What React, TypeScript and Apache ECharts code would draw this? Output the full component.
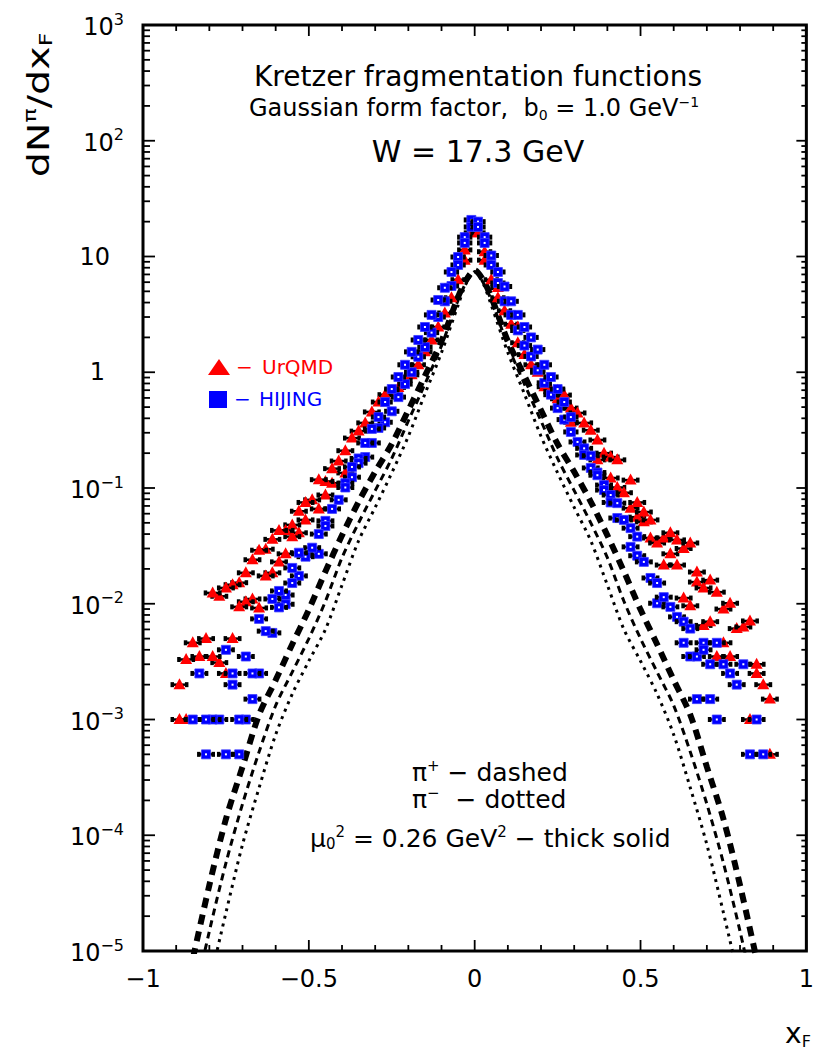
import React, { useEffect, useRef } from "react";
import * as echarts from "echarts";

const FONT = "DejaVu Sans";

// ---- axis ticks ----
const xTickLabels = [-1, -0.5, 0, 0.5, 1];
const yDecades = [-5, -4, -3, -2, -1, 0, 1, 2, 3];

// ---- model curves (dN/dxF vs xF) ----
const curveX = [
  -0.86, -0.8, -0.75, -0.7, -0.65, -0.6, -0.55, -0.5, -0.45, -0.4, -0.35, -0.3, -0.25, -0.2, -0.15, -0.1, -0.05, -0.025, 0,
  0.025, 0.05, 0.1, 0.15, 0.2, 0.25, 0.3, 0.35, 0.4, 0.45, 0.5, 0.55, 0.6, 0.65, 0.7, 0.75, 0.8, 0.86,
];
const thickSolid = [
  6.3e-6, 3.7e-5, 1.38e-4, 3.9e-4, 1.1e-3, 2.19e-3, 4.47e-3, 8.9e-3, 0.019, 0.039, 0.076, 0.138, 0.24, 0.47, 0.93, 1.86, 4.47, 6.3, 7.6,
  6.3, 4.47, 1.86, 0.93, 0.47, 0.24, 0.138, 0.076, 0.039, 0.019, 8.9e-3, 4.47e-3, 2.19e-3, 1.1e-3, 3.9e-4, 1.38e-4, 3.7e-5, 6.3e-6,
];
const piPlusDashed = [
  2.5e-6, 1.48e-5, 5.75e-5, 1.86e-4, 5.25e-4, 1.32e-3, 2.57e-3, 5.0e-3, 0.0105, 0.025, 0.05, 0.095, 0.18, 0.38, 0.79, 1.7, 4.2, 6.0, 7.4,
  6.0, 4.2, 1.7, 0.79, 0.38, 0.18, 0.095, 0.05, 0.025, 0.0105, 5.0e-3, 2.57e-3, 1.32e-3, 5.25e-4, 1.86e-4, 5.75e-5, 1.48e-5, 2.5e-6,
];
const piMinusDotted = [
  1e-6, 5.2e-6, 2.14e-5, 8.3e-5, 2.57e-4, 7.4e-4, 1.66e-3, 3.2e-3, 6.0e-3, 0.0145, 0.035, 0.068, 0.135, 0.28, 0.65, 1.48, 3.8, 5.9, 7.4,
  5.9, 3.8, 1.48, 0.65, 0.28, 0.135, 0.068, 0.035, 0.0145, 6.0e-3, 3.2e-3, 1.66e-3, 7.4e-4, 2.57e-4, 8.3e-5, 2.14e-5, 5.2e-6, 1e-6,
];

// ---- UrQMD points [xF, dN/dxF] ----
const urqmdLeft = [
  [-0.01, 16], [-0.03, 11.4], [-0.03, 9.3], [-0.05, 6.3], [-0.07, 4.4], [-0.09, 3.25], [-0.11, 2.46], [-0.13, 1.9],
  [-0.15, 1.5], [-0.17, 1.16], [-0.19, 0.95], [-0.21, 0.85], [-0.23, 0.74], [-0.25, 0.69], [-0.27, 0.64], [-0.29, 0.553],
  [-0.31, 0.454], [-0.33, 0.365], [-0.35, 0.31], [-0.37, 0.27], [-0.39, 0.21], [-0.39, 0.135], [-0.41, 0.171],
  [-0.43, 0.147], [-0.43, 0.11], [-0.45, 0.114], [-0.45, 0.087], [-0.47, 0.118], [-0.47, 0.066], [-0.49, 0.079],
  [-0.51, 0.075], [-0.51, 0.053], [-0.53, 0.063], [-0.53, 0.041], [-0.55, 0.048], [-0.55, 0.038], [-0.57, 0.043],
  [-0.57, 0.027], [-0.59, 0.043], [-0.59, 0.023], [-0.61, 0.036], [-0.61, 0.0185], [-0.63, 0.0296], [-0.63, 0.0174],
  [-0.65, 0.029], [-0.65, 0.0092], [-0.67, 0.024], [-0.67, 0.011], [-0.69, 0.0185], [-0.69, 0.0104], [-0.71, 0.0152],
  [-0.71, 0.0094], [-0.73, 0.0146], [-0.73, 0.005], [-0.75, 0.0137], [-0.75, 0.0025], [-0.77, 0.0116], [-0.77, 0.0031],
  [-0.79, 0.0124], [-0.79, 0.0035], [-0.81, 0.005], [-0.83, 0.0035], [-0.85, 0.0046], [-0.87, 0.0033], [-0.87, 0.001],
  [-0.89, 0.002], [-0.89, 0.001],
];
const urqmdRight = [
  [0.01, 16], [0.03, 11], [0.03, 9.3], [0.05, 6.3], [0.07, 5.4], [0.07, 4.4], [0.09, 3.4], [0.11, 2.6], [0.13, 2.46],
  [0.13, 1.8], [0.15, 1.42], [0.17, 1.16], [0.19, 1.0], [0.21, 0.75], [0.23, 0.68], [0.25, 0.7], [0.25, 0.59],
  [0.27, 0.635], [0.29, 0.49], [0.29, 0.37], [0.31, 0.445], [0.33, 0.365], [0.35, 0.316], [0.37, 0.26], [0.37, 0.175],
  [0.39, 0.2], [0.41, 0.185], [0.41, 0.122], [0.43, 0.175], [0.43, 0.101], [0.45, 0.091], [0.47, 0.117], [0.47, 0.067],
  [0.49, 0.075], [0.49, 0.056], [0.51, 0.062], [0.51, 0.051], [0.53, 0.053], [0.53, 0.037], [0.55, 0.0335],
  [0.57, 0.037], [0.57, 0.0216], [0.59, 0.041], [0.59, 0.027], [0.61, 0.0356], [0.61, 0.0216], [0.63, 0.03],
  [0.63, 0.0112], [0.65, 0.0335], [0.65, 0.0096], [0.67, 0.0188], [0.67, 0.0154], [0.69, 0.0137], [0.69, 0.0065],
  [0.71, 0.016], [0.71, 0.007], [0.73, 0.0126], [0.73, 0.0035], [0.75, 0.009], [0.75, 0.0046], [0.77, 0.0101],
  [0.77, 0.0035], [0.79, 0.0061], [0.81, 0.0063], [0.83, 0.0071], [0.83, 0.001], [0.85, 0.003], [0.85, 0.0025],
  [0.87, 0.002], [0.89, 0.0015], [0.89, 0.0005],
];

// ---- HIJING points [xF, dN/dxF] ----
const hijingLeft = [
  [-0.01, 20.7], [-0.01, 18], [-0.03, 14.7], [-0.03, 13.1], [-0.05, 9.9], [-0.05, 8.45], [-0.07, 7.35], [-0.07, 5.56],
  [-0.09, 5.37], [-0.09, 4.1], [-0.11, 4.21], [-0.11, 3.0], [-0.13, 3.13], [-0.13, 2.2], [-0.15, 2.46], [-0.15, 1.65],
  [-0.17, 1.9], [-0.17, 1.36], [-0.19, 1.5], [-0.19, 1.0], [-0.21, 1.16], [-0.21, 0.79], [-0.23, 0.91], [-0.23, 0.61],
  [-0.25, 0.716], [-0.25, 0.46], [-0.27, 0.553], [-0.27, 0.37], [-0.29, 0.41], [-0.29, 0.33], [-0.31, 0.324],
  [-0.31, 0.245], [-0.33, 0.245], [-0.33, 0.185], [-0.35, 0.18], [-0.35, 0.164], [-0.37, 0.152], [-0.37, 0.124],
  [-0.39, 0.11], [-0.39, 0.101], [-0.41, 0.079], [-0.43, 0.066], [-0.45, 0.052], [-0.45, 0.047], [-0.47, 0.04],
  [-0.47, 0.027], [-0.49, 0.0305], [-0.51, 0.0255], [-0.53, 0.0276], [-0.53, 0.0174], [-0.55, 0.0204], [-0.55, 0.0151],
  [-0.57, 0.0119], [-0.57, 0.0099], [-0.59, 0.0129], [-0.59, 0.0093], [-0.61, 0.011], [-0.61, 0.0056], [-0.63, 0.0058],
  [-0.65, 0.0074], [-0.65, 0.0025], [-0.67, 0.0025], [-0.67, 0.0015], [-0.69, 0.0035], [-0.69, 0.001], [-0.71, 0.001],
  [-0.71, 0.0005], [-0.73, 0.0025], [-0.73, 0.002], [-0.75, 0.004], [-0.75, 0.0005], [-0.77, 0.001], [-0.79, 0.001],
  [-0.81, 0.001], [-0.81, 0.0005], [-0.83, 0.0025], [-0.85, 0.001],
];
const hijingRight = [
  [0.01, 20], [0.01, 18], [0.03, 14.7], [0.03, 13.1], [0.05, 10.2], [0.05, 8.45], [0.07, 7.35], [0.07, 5.9],
  [0.09, 5.5], [0.09, 4.1], [0.11, 4.1], [0.11, 3.13], [0.13, 3.13], [0.13, 2.3], [0.15, 2.46], [0.15, 1.7],
  [0.17, 2.0], [0.17, 1.37], [0.19, 1.57], [0.19, 1.04], [0.21, 1.16], [0.21, 0.81], [0.23, 0.91], [0.23, 0.64],
  [0.25, 0.716], [0.25, 0.49], [0.27, 0.553], [0.27, 0.39], [0.29, 0.41], [0.29, 0.305], [0.31, 0.25], [0.33, 0.22],
  [0.33, 0.193], [0.35, 0.19], [0.35, 0.149], [0.37, 0.136], [0.37, 0.129], [0.39, 0.106], [0.39, 0.096], [0.41, 0.087],
  [0.41, 0.075], [0.43, 0.074], [0.43, 0.055], [0.45, 0.053], [0.47, 0.045], [0.47, 0.031], [0.49, 0.038], [0.49, 0.026],
  [0.51, 0.023], [0.53, 0.0167], [0.55, 0.0151], [0.55, 0.0101], [0.57, 0.0114], [0.59, 0.0094], [0.61, 0.0077],
  [0.63, 0.007], [0.63, 0.0046], [0.65, 0.0061], [0.65, 0.0035], [0.67, 0.0035], [0.67, 0.0015], [0.69, 0.0046],
  [0.69, 0.004], [0.71, 0.003], [0.71, 0.0015], [0.73, 0.0046], [0.73, 0.001], [0.75, 0.003], [0.77, 0.0025],
  [0.79, 0.002], [0.81, 0.003], [0.83, 0.0005], [0.85, 0.001], [0.87, 0.0005],
];

function errHalf(x: number) {
  const a = Math.abs(x);
  return a < 0.3 ? 0.02 : 0.024;
}

function markerRenderer(kind: "tri" | "sq") {
  return (_params: any, api: any) => {
    const x = api.value(0);
    const y = api.value(1);
    const hw = errHalf(x);
    const c = api.coord([x, y]);
    const l = api.coord([x - hw, y]);
    const r = api.coord([x + hw, y]);
    const children: any[] = [
      { type: "line", shape: { x1: l[0], y1: c[1], x2: r[0], y2: c[1] }, style: { stroke: "#000", lineWidth: 2.5 } },
      { type: "rect", shape: { x: l[0] - 1, y: c[1] - 2.5, width: 3.5, height: 5 }, style: { fill: "#000" } },
      { type: "rect", shape: { x: r[0] - 2.5, y: c[1] - 2.5, width: 3.5, height: 5 }, style: { fill: "#000" } },
    ];
    if (kind === "tri") {
      children.push({
        type: "polygon",
        shape: { points: [[c[0], c[1] - 6.5], [c[0] - 6, c[1] + 4.5], [c[0] + 6, c[1] + 4.5]] },
        style: { fill: "#ff0000" },
      });
    } else {
      children.push(
        { type: "rect", shape: { x: c[0] - 4.5, y: c[1] - 4.5, width: 9, height: 9 }, style: { fill: "#0000ff", stroke: "#3a3aff", lineWidth: 0.8 } },
        { type: "rect", shape: { x: c[0] - 1, y: c[1] - 1, width: 2, height: 2 }, style: { fill: "#ffffff" } }
      );
    }
    return { type: "group", children };
  };
}

export default function App() {
  const ref = useRef<HTMLDivElement>(null);

  useEffect(() => {
    if (!ref.current) return;
    const chart = echarts.init(ref.current, null, { renderer: "svg" });

    const yTicks: number[][] = [];
    yDecades.forEach((d) => {
      yTicks.push([-1, Math.pow(10, d), 1]);
      if (d < 3) for (let k = 2; k <= 9; k++) yTicks.push([-1, k * Math.pow(10, d), 0]);
    });
    const xTicks: number[][] = [];
    for (let i = -10; i <= 10; i++) {
      const v = i / 10;
      xTicks.push([v, 1, i % 5 === 0 ? 1 : 0]);
    }

    const rich = {
      b: { fontSize: 24, fontFamily: FONT, color: "#000", lineHeight: 28, verticalAlign: "bottom" },
      e: { fontSize: 16, fontFamily: FONT, color: "#000", lineHeight: 16, verticalAlign: "top" },
      ten: { fontSize: 24, fontFamily: FONT, color: "#000", lineHeight: 28, padding: [0, 14, 0, 0] },
      one: { fontSize: 24, fontFamily: FONT, color: "#000", lineHeight: 28, padding: [0, 19, 0, 0] },
    };

    const textTok = (size: number) => ({ fontSize: size, fontFamily: FONT, fill: "#000", lineHeight: size + 2, verticalAlign: "middle" });
    const supTok = (size: number) => ({ fontSize: size, fontFamily: FONT, fill: "#000", lineHeight: size, verticalAlign: "top" });
    const subTok = (size: number) => ({ fontSize: size, fontFamily: FONT, fill: "#000", lineHeight: size, verticalAlign: "bottom" });

    const option: any = {
      animation: false,
      grid: { left: 143, right: 5, top: 25, bottom: 104, show: true, borderWidth: 3, borderColor: "#000", backgroundColor: "transparent" },
      xAxis: {
        type: "value",
        min: -1,
        max: 1,
        interval: 0.5,
        axisLine: { show: false },
        axisTick: { show: false },
        splitLine: { show: false },
        axisLabel: {
          margin: 16,
          fontSize: 24,
          fontFamily: FONT,
          color: "#000",
          formatter: (v: number) => (xTickLabels.indexOf(v) < 0 ? "" : v < 0 ? "\u2212" + Math.abs(v) : String(v)),
        },
      },
      yAxis: {
        type: "log",
        logBase: 10,
        min: 1e-5,
        max: 1e3,
        splitNumber: 8,
        axisLine: { show: false },
        axisTick: { show: false },
        splitLine: { show: false },
        axisLabel: {
          margin: 19,
          formatter: (v: number) => {
            const e = Math.round(Math.log10(v));
            if (e === 0) return "{one|1}";
            if (e === 1) return "{ten|10}";
            return "{b|10}{e|" + (e < 0 ? "\u2212" + -e : String(e)) + "}";
          },
          rich,
        },
      },
      series: [
        {
          type: "line",
          data: curveX.map((x, i) => [x, thickSolid[i]]),
          showSymbol: false,
          smooth: 0.3,
          clip: true,
          silent: true,
          z: 2,
          lineStyle: { color: "#000", width: 6, type: [10, 7], cap: "butt" },
        },
        {
          type: "line",
          data: curveX.map((x, i) => [x, piPlusDashed[i]]),
          showSymbol: false,
          smooth: 0.3,
          clip: true,
          silent: true,
          z: 2,
          lineStyle: { color: "#000", width: 3, type: [7, 5], cap: "butt" },
        },
        {
          type: "line",
          data: curveX.map((x, i) => [x, piMinusDotted[i]]),
          showSymbol: false,
          smooth: 0.3,
          clip: true,
          silent: true,
          z: 2,
          lineStyle: { color: "#000", width: 3, type: [3, 5], cap: "butt" },
        },
        {
          type: "custom",
          name: "UrQMD",
          data: [...urqmdLeft, ...urqmdRight],
          renderItem: markerRenderer("tri"),
          clip: true,
          silent: true,
          z: 3,
        },
        {
          type: "custom",
          name: "HIJING",
          data: [...hijingLeft, ...hijingRight],
          renderItem: markerRenderer("sq"),
          clip: true,
          silent: true,
          z: 4,
        },
        {
          type: "custom",
          data: yTicks,
          clip: false,
          silent: true,
          z: 5,
          renderItem: (_p: any, api: any) => {
            const v = api.value(1);
            const major = api.value(2) === 1;
            const pl = api.coord([-1, v]);
            const pr = api.coord([1, v]);
            const ll = major ? 12 : 7;
            const lr = major ? 10 : 5;
            return {
              type: "group",
              children: [
                { type: "line", shape: { x1: pl[0], y1: pl[1], x2: pl[0] + ll, y2: pl[1] }, style: { stroke: "#000", lineWidth: 1.8 } },
                { type: "line", shape: { x1: pr[0] - lr, y1: pr[1], x2: pr[0], y2: pr[1] }, style: { stroke: "#000", lineWidth: 1.8 } },
              ],
            };
          },
        },
        {
          type: "custom",
          data: xTicks,
          clip: false,
          silent: true,
          z: 5,
          renderItem: (_p: any, api: any) => {
            const v = api.value(0);
            const major = api.value(2) === 1;
            const pb = api.coord([v, 1e-5]);
            const pt = api.coord([v, 1e3]);
            const len = major ? 11 : 6;
            return {
              type: "group",
              children: [
                { type: "line", shape: { x1: pb[0], y1: pb[1], x2: pb[0], y2: pb[1] - len }, style: { stroke: "#000", lineWidth: 1.8 } },
                { type: "line", shape: { x1: pt[0], y1: pt[1], x2: pt[0], y2: pt[1] + len }, style: { stroke: "#000", lineWidth: 1.8 } },
              ],
            };
          },
        },
      ],
      graphic: [
        {
          type: "text",
          x: 478,
          y: 76,
          style: { text: "Kretzer fragmentation functions", fontSize: 28, fontFamily: FONT, fill: "#000", align: "center", verticalAlign: "middle" },
        },
        {
          type: "text",
          x: 474,
          y: 108,
          style: {
            text: "{a|Gaussian form factor,  b}{sb|0}{a| = 1.0 GeV}{sp|\u22121}",
            align: "center",
            verticalAlign: "middle",
            rich: { a: { ...textTok(24), lineHeight: 27 }, sb: subTok(14), sp: supTok(14) },
          },
        },
        {
          type: "text",
          x: 478,
          y: 151,
          style: { text: "W = 17.3 GeV", fontSize: 30, fontFamily: FONT, fill: "#000", align: "center", verticalAlign: "middle" },
        },
        {
          type: "text",
          x: 38,
          y: 105,
          rotation: Math.PI / 2,
          scaleX: 1.32,
          style: {
            text: "{a|dN}{sp|\u03c0}{a|/dx}{sb|F}",
            align: "center",
            verticalAlign: "middle",
            rich: { a: { ...textTok(30), lineHeight: 34 }, sp: supTok(18), sb: subTok(18) },
          },
        },
        {
          type: "text",
          x: 798,
          y: 1033,
          style: {
            text: "{a|x}{sb|F}",
            align: "center",
            verticalAlign: "middle",
            rich: { a: { ...textTok(28), lineHeight: 32 }, sb: subTok(16) },
          },
        },
        // legend
        { type: "polygon", shape: { points: [[219, 359], [208, 375], [230, 375]] }, style: { fill: "#ff0000" } },
        { type: "text", x: 236, y: 367, style: { text: "\u2212", fontSize: 20, fontFamily: FONT, fill: "#ff0000", verticalAlign: "middle" } },
        { type: "text", x: 262, y: 367, style: { text: "UrQMD", fontSize: 20, fontFamily: FONT, fill: "#ff0000", verticalAlign: "middle" } },
        { type: "rect", shape: { x: 209, y: 391, width: 18, height: 17 }, style: { fill: "#0000ff" } },
        { type: "text", x: 234, y: 399, style: { text: "\u2212", fontSize: 20, fontFamily: FONT, fill: "#0000ff", verticalAlign: "middle" } },
        { type: "text", x: 259, y: 399, style: { text: "HIJING", fontSize: 20, fontFamily: FONT, fill: "#0000ff", verticalAlign: "middle" } },
        // curve annotations
        {
          type: "text",
          x: 412,
          y: 772,
          style: { text: "{a|\u03c0}{sp|+}{a| \u2212 dashed}", align: "left", verticalAlign: "middle", rich: { a: textTok(25), sp: supTok(15) } },
        },
        {
          type: "text",
          x: 412,
          y: 799,
          style: { text: "{a|\u03c0}{sp|\u2212}{a|  \u2212 dotted}", align: "left", verticalAlign: "middle", rich: { a: textTok(25), sp: supTok(15) } },
        },
        {
          type: "text",
          x: 310,
          y: 838,
          style: {
            text: "{a|\u03bc}{sb|0}{sp|2}{a| = 0.26 GeV}{sp|2}{a| \u2212 thick solid}",
            align: "left",
            verticalAlign: "middle",
            rich: { a: textTok(25), sp: supTok(15), sb: subTok(15) },
          },
        },
      ],
    };

    chart.setOption(option);
    return () => chart.dispose();
  }, []);

  return <div ref={ref} style={{ position: "absolute", left: 0, top: 0, width: 817, height: 1055 }} />;
}
